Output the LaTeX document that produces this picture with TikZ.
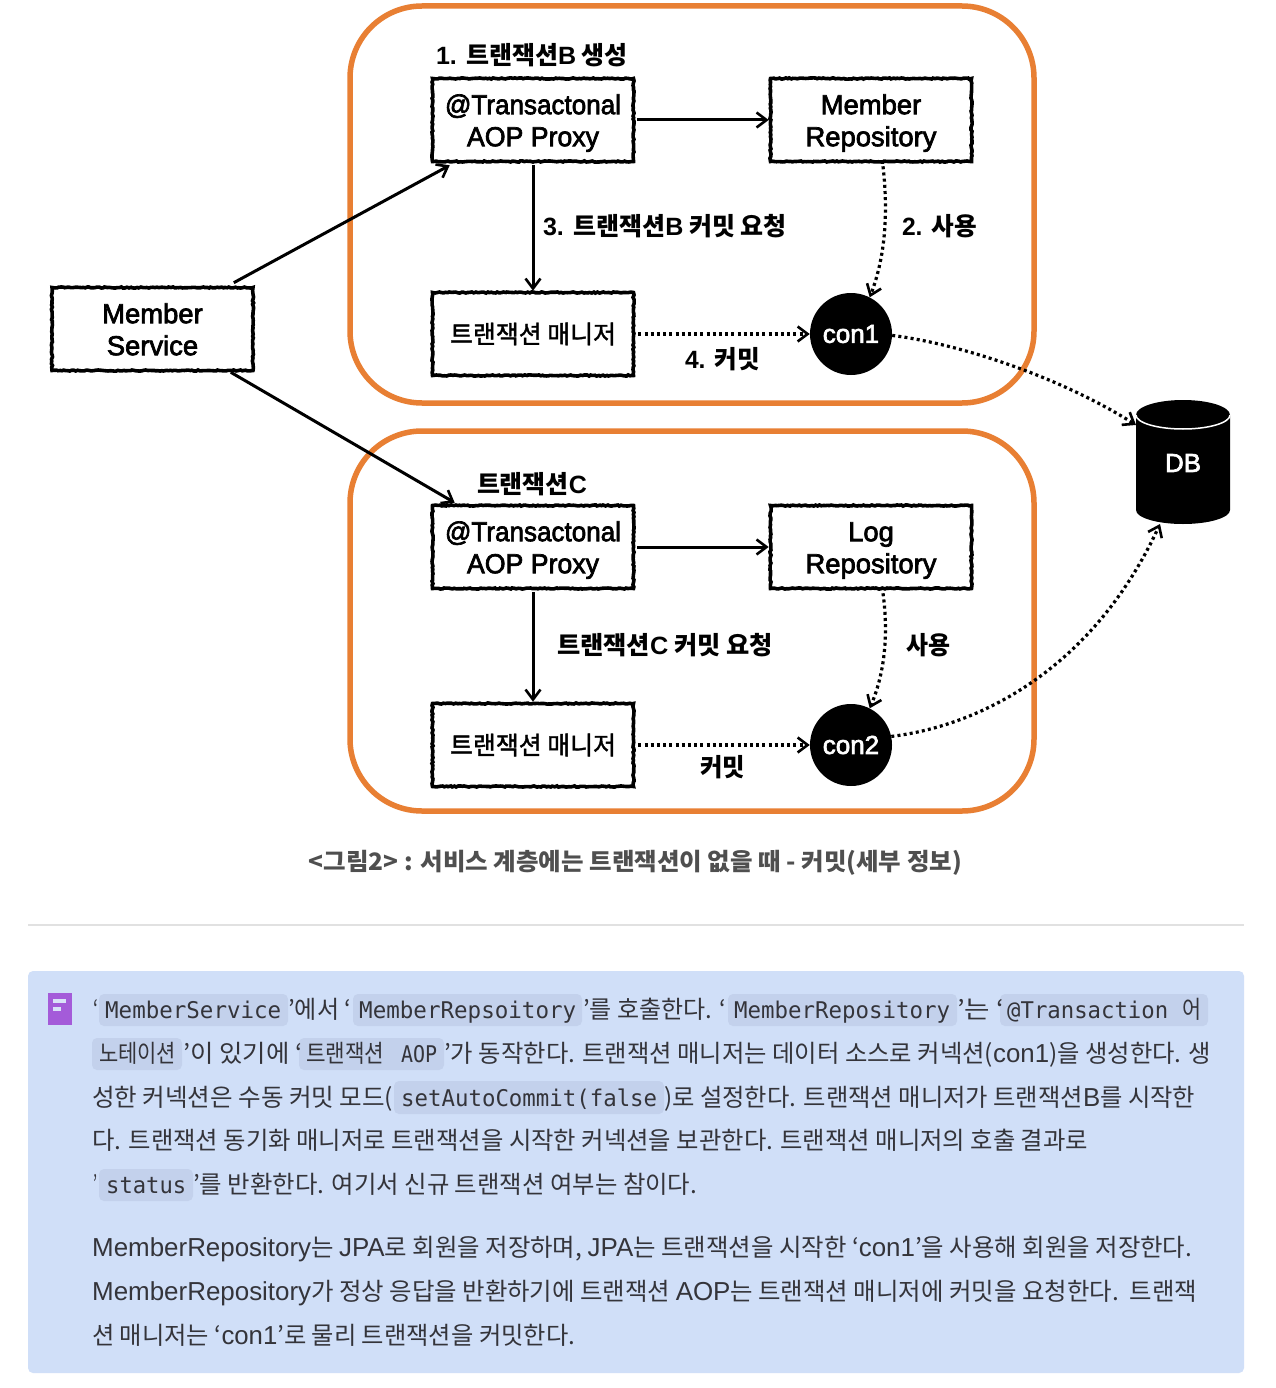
\documentclass[tikz,border=0pt]{standalone}
\usepackage{fontspec}
\usepackage{graphicx}
\usetikzlibrary{arrows.meta,decorations.pathmorphing,calc}
\setmainfont{Noto Sans CJK KR}
\newfontfamily\la{Liberation Sans}[FakeBold=2.5]
\newfontfamily\krm{Noto Sans CJK KR}[FakeBold=1.5]
\newfontfamily\lb{Liberation Sans}[BoldFont={Liberation Sans Bold}]
\newfontfamily\lt{Liberation Sans}
\newfontfamily\mo{DejaVu Sans Mono}
\definecolor{orangeline}{HTML}{E87F33}
\definecolor{panelbg}{HTML}{D0DFF8}
\definecolor{chipbg}{HTML}{C3D1EC}
\definecolor{bodyink}{HTML}{34343A}
\definecolor{capink}{HTML}{4F4F4F}
\definecolor{iconpurple}{HTML}{A45BD9}
\definecolor{iconbar}{HTML}{D9E2F8}
\definecolor{rulegray}{HTML}{E1E1E1}
\tikzset{
  groupbox/.style={draw=orangeline,line width=5.5pt,rounded corners=72pt},
  compbox/.style={draw=black,line width=3.6pt,fill=white,minimum width=201pt,minimum height=83pt,inner sep=0pt,align=center,
    decorate,decoration={random steps,segment length=2pt,amplitude=.6pt},
    font=\fontsize{27.4}{32}\selectfont\la},
  flabel/.style={inner sep=0pt,text=black},
  solidarrow/.style={draw=black,line width=3pt,-{Straight Barb[length=10pt,width=15pt,line width=2.6pt]}},
  dotarrow/.style={draw=black,line width=3.2pt,dash pattern=on 3pt off 3.2pt,-{Straight Barb[length=10pt,width=15pt,line width=2.6pt,sep=0pt]}},
  conn/.style={circle,fill=black,minimum size=82pt,inner sep=0pt,text=white,font=\fontsize{26}{30}\selectfont\la},
  segtext/.style={anchor=base west,inner sep=0pt,text=bodyink,font=\fontsize{24.5}{30}\selectfont},
  chip/.style={fill=chipbg,rounded corners=5pt},
}
\newcommand\seg[5]{\node[segtext] (#1) at (#2,#3) {\resizebox{#4pt}{\height}{#5}};}
\newcommand\lbl[5]{\node[flabel] (#1) at (#2,#3) {\resizebox{#4pt}{\height}{\fontsize{25}{30}\selectfont\bfseries #5}};}
\newcommand\code[1]{{\mo\fontsize{23}{28}\selectfont #1}}
\newcommand\LB[1]{{\lb\bfseries #1}}
\newcommand\LT[1]{{\lt\fontsize{26}{30}\selectfont #1}}
\newcommand\twolines[2]{\raisebox{-10pt}[0pt][0pt]{\begin{tabular}{@{}c@{}}#1\\#2\end{tabular}}}
\begin{document}
\begin{tikzpicture}[x=1pt,y=-1pt]
\useasboundingbox (0,0) rectangle (1275,1388);
\fill[white] (0,0) rectangle (1275,1388);

% groups
\draw[groupbox] (350,6) rectangle (1034,403);
\draw[groupbox] (350,431) rectangle (1034,811);

% component boxes
\node[compbox] (ms) at (152.5,329) {\twolines{Member}{Service}};
\node[compbox] (tp1) at (533,120) {\twolines{\resizebox{176pt}{\height}{@Transactonal}}{\resizebox{132pt}{\height}{AOP Proxy}}};
\node[compbox] (mr) at (871,120) {\twolines{Member}{Repository}};
\node[compbox] (mg1) at (533,334) {\resizebox{166pt}{\height}{\fontsize{25}{30}\selectfont\krm 트랜잭션 매니저}};
\node[compbox] (tp2) at (533,547) {\twolines{\resizebox{176pt}{\height}{@Transactonal}}{\resizebox{132pt}{\height}{AOP Proxy}}};
\node[compbox] (lr) at (871,547) {\twolines{Log}{Repository}};
\node[compbox] (mg2) at (533,745) {\resizebox{166pt}{\height}{\fontsize{25}{30}\selectfont\krm 트랜잭션 매니저}};

% connections
\node[conn] (con1) at (851,334) {con1};
\node[conn] (con2) at (851,745) {con2};

% database
\fill[black] (1136,415) arc[start angle=180,end angle=0,x radius=47pt,y radius=15pt]
  -- (1230,510) arc[start angle=0,end angle=-180,x radius=47pt,y radius=14pt] -- cycle;
\draw[white,line width=1.5pt] (1136,415) arc[start angle=180,end angle=360,x radius=47pt,y radius=14pt];
\node[inner sep=0pt,text=white,font=\fontsize{26}{30}\selectfont\la] (db) at (1183,463) {DB};

% connectors
\draw[solidarrow] ([xshift=-21pt,yshift=3pt]ms.north east) -- ([xshift=19pt,yshift=-2pt]tp1.south west);
\draw[solidarrow] ([xshift=-24pt]ms.south east) -- ([xshift=24pt,yshift=1pt]tp2.north west);
\draw[solidarrow] ([xshift=2pt]tp1.east) -- (mr.west);
\draw[solidarrow] ([xshift=2pt]tp2.east) -- (lr.west);
\draw[solidarrow] ([yshift=-2pt]tp1.south) -- (mg1.north);
\draw[solidarrow] ([yshift=-2pt]tp2.south) -- (mg2.north);
\draw[dotarrow] ([xshift=3pt]mg1.east) -- (con1.west);
\draw[dotarrow] ([xshift=3pt]mg2.east) -- (con2.west);
\draw[dotarrow] ([xshift=12pt,yshift=-3pt]mr.south) .. controls (888,210) and (886,255) .. (con1.63);
\draw[dotarrow] ([xshift=12pt,yshift=-3pt]lr.south) .. controls (888,630) and (886,670) .. (con2.63);
\draw[dotarrow] (con1.-2) .. controls (960,344) and (1060,377) .. ([xshift=-47pt,yshift=38pt]db.center);
\draw[dotarrow] (con2.12) .. controls (985,725) and (1095,665) .. ([xshift=-23pt,yshift=-61pt]db.center);

% diagram labels
\lbl{l1}{532}{55}{192}{\LB{1. }트랜잭션\LB{B} 생성}
\lbl{l3}{665}{226}{244}{\LB{3. }트랜잭션\LB{B} 커밋 요청}
\lbl{l2}{939.5}{226}{75}{\LB{2. }사용}
\lbl{l4}{722.5}{359}{75}{\LB{4. }커밋}
\lbl{lc}{532}{484}{110}{트랜잭션\LB{C}}
\lbl{lcc}{665}{645}{216}{트랜잭션\LB{C} 커밋 요청}
\lbl{lu}{928}{645}{44}{사용}
\lbl{lk}{722.5}{767}{45}{커밋}

% caption
\node[flabel,text=capink] (cap) at (635.5,863) {\resizebox{653pt}{\height}{\fontsize{24}{30}\selectfont\bfseries <그림2> : 서비스 계층에는 트랜잭션이 없을 때 - 커밋(세부 정보)}};

% rule
\draw[rulegray,line width=2.4pt] (28,925) -- (1244,925);

% callout panel
\fill[panelbg,rounded corners=5pt] (28,971) rectangle (1244,1373);
\fill[iconpurple] (48,993) rectangle (72,1025);
\fill[iconbar] (53,999) rectangle (66,1003);
\fill[iconbar] (53,1007) rectangle (61,1011);

% code chips
\fill[chip] (99,994) rectangle (288,1026);
\fill[chip] (353,994) rectangle (582,1026);
\fill[chip] (728,994) rectangle (957,1026);
\fill[chip] (1000,994) rectangle (1208,1026);
\fill[chip] (92,1038) rectangle (182,1070);
\fill[chip] (299,1038) rectangle (444,1070);
\fill[chip] (394,1081) rectangle (664,1114);
\fill[chip] (99,1169) rectangle (193,1201);

% line 1
\seg{a1}{93}{1018}{5}{‘}
\seg{a2}{105}{1018}{176}{\code{MemberService}}
\seg{a3}{288}{1018}{63}{’에서 ‘}
\seg{a4}{359}{1018}{217}{\code{MemberRepsoitory}}
\seg{a5}{583}{1018}{143}{’를 호출한다. ‘}
\seg{a6}{734}{1018}{216}{\code{MemberRepository}}
\seg{a7}{957}{1018}{47}{’는 ‘}
\seg{a8}{1007}{1018}{161}{\code{@Transaction}}
\seg{a9}{1182}{1018}{19}{어}
% line 2
\seg{b1}{99}{1062}{77}{노테이션}
\seg{b2}{183}{1062}{119}{’이 있기에 ‘}
\seg{b3}{306}{1062}{131}{트랜잭션 \code{\ AOP}}
\seg{b4}{444}{1062}{767}{’가 동작한다. 트랜잭션 매니저는 데이터 소스로 커넥션(\LT{con1})을 생성한다. 생}
% line 3
\seg{c1}{92}{1106}{301}{성한 커넥션은 수동 커밋 모드(}
\seg{c2}{401}{1106}{256}{\code{setAutoCommit(false}}
\seg{c3}{664}{1106}{531}{)로 설정한다. 트랜잭션 매니저가 트랜잭션\LT{B}를 시작한}
% line 4
\seg{d1}{92}{1149}{996}{다. 트랜잭션 동기화 매니저로 트랜잭션을 시작한 커넥션을 보관한다. 트랜잭션 매니저의 호출 결과로}
% line 5
\seg{e1}{93}{1193}{4}{'}
\seg{e2}{106}{1193}{80}{\code{status}}
\seg{e3}{193}{1193}{504}{’를 반환한다. 여기서 신규 트랜잭션 여부는 참이다.}
% second paragraph
\seg{f1}{92}{1256}{1100}{\LT{MemberRepository}는 \LT{JPA}로 회원을 저장하며, \LT{JPA}는 트랜잭션을 시작한 ‘\LT{con1}’을 사용해 회원을 저장한다.}
\seg{f2}{92}{1300}{1105}{\LT{MemberRepository}가 정상 응답을 반환하기에 트랜잭션 \LT{AOP}는 트랜잭션 매니저에 커밋을 요청한다.~~트랜잭}
\seg{f3}{92}{1344}{483}{션 매니저는 ‘\LT{con1}’로 물리 트랜잭션을 커밋한다.}
\end{tikzpicture}
\end{document}
